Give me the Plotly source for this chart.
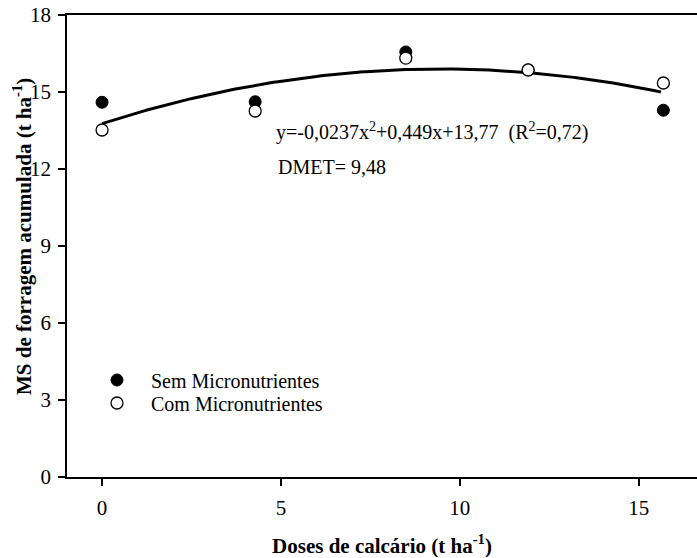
import numpy as np
import plotly.graph_objects as go

# Doses de calcário (t/ha) e produção de MS acumulada (t/ha)
doses = [0.0, 4.28, 8.49, 11.91, 15.69]
sem_micro = [14.60, 14.62, 16.56, 15.86, 14.29]
com_micro = [13.52, 14.26, 16.32, 15.86, 15.35]

# Coeficientes da regressão quadrática ajustada
coef_a, coef_b, coef_c = -0.0237, 0.449, 13.77
curve_end = 15.62

x_ticks = [0, 5, 10, 15]
y_ticks = [0, 3, 6, 9, 12, 15, 18]

FONT = "Liberation Serif"

W, H = 697, 558
L, R, T, B = 67, 0, 15, 81
pw, ph = W - L - R, H - T - B


def px_x(p):
    return (p - L) / pw


def px_y(p):
    return 1 - (p - T) / ph


xc = np.linspace(doses[0], curve_end, 200)
yc = coef_a * xc**2 + coef_b * xc + coef_c

fig = go.Figure()

fig.add_trace(go.Scatter(
    x=xc, y=yc, mode="lines",
    line=dict(color="black", width=3),
    showlegend=False, hoverinfo="skip",
))
fig.add_trace(go.Scatter(
    x=doses, y=sem_micro, mode="markers", name="Sem Micronutrientes",
    legend="legend",
    marker=dict(symbol="circle", size=12, color="black",
                line=dict(color="black", width=1)),
))
fig.add_trace(go.Scatter(
    x=doses, y=com_micro, mode="markers", name="Com Micronutrientes",
    legend="legend2",
    marker=dict(symbol="circle", size=12, color="white",
                line=dict(color="black", width=1.3)),
))

fig.add_annotation(
    x=px_x(274), y=px_y(131.5), xref="paper", yref="paper", showarrow=False,
    text="y=-0,0237x<sup>2</sup>+0,449x+13,77  (R<sup>2</sup>=0,72)",
    xanchor="left", yanchor="middle",
    font=dict(family=FONT, size=20, color="black"),
)
fig.add_annotation(
    x=px_x(276), y=px_y(167), xref="paper", yref="paper", showarrow=False,
    text="DMET= 9,48",
    xanchor="left", yanchor="middle",
    font=dict(family=FONT, size=20, color="black"),
)
# Título do eixo Y
fig.add_annotation(
    x=px_x(22), y=px_y(237), xref="paper", yref="paper", showarrow=False,
    text="<b>MS de forragem acumulada (t ha<sup>-1</sup>)</b>",
    textangle=-90, xanchor="center", yanchor="middle",
    font=dict(family=FONT, size=21, color="black"),
)

legend_style = dict(
    xanchor="left", yanchor="middle",
    bgcolor="rgba(0,0,0,0)",
    font=dict(family=FONT, size=20, color="black"),
    itemwidth=58,
)

fig.update_layout(
    width=W, height=H,
    margin=dict(l=L, r=R, t=T, b=B, pad=0),
    paper_bgcolor="white", plot_bgcolor="white",
    font=dict(family=FONT, size=21, color="black"),
    legend=dict(x=px_x(83), y=px_y(380), **legend_style),
    legend2=dict(x=px_x(83), y=px_y(403), **legend_style),
    xaxis=dict(
        range=[-0.98, 16.63], tickvals=x_ticks,
        showline=True, linecolor="black", linewidth=1.5, mirror=True,
        ticks="outside", ticklen=7, tickwidth=1.5, tickcolor="black",
        showgrid=False, zeroline=False, ticklabelstandoff=4,
        title=dict(text="<b>Doses de calcário (t ha<sup>-1</sup>)</b>",
                   font=dict(family=FONT, size=21), standoff=20),
        tickfont=dict(family=FONT, size=21),
    ),
    yaxis=dict(
        range=[0, 18], tickvals=y_ticks,
        showline=True, linecolor="black", linewidth=1.5,
        ticks="outside", ticklen=7, tickwidth=1.5, tickcolor="black",
        showgrid=False, zeroline=False, ticklabelstandoff=3,
        tickfont=dict(family=FONT, size=21),
    ),
)

fig.write_html("out.html")
